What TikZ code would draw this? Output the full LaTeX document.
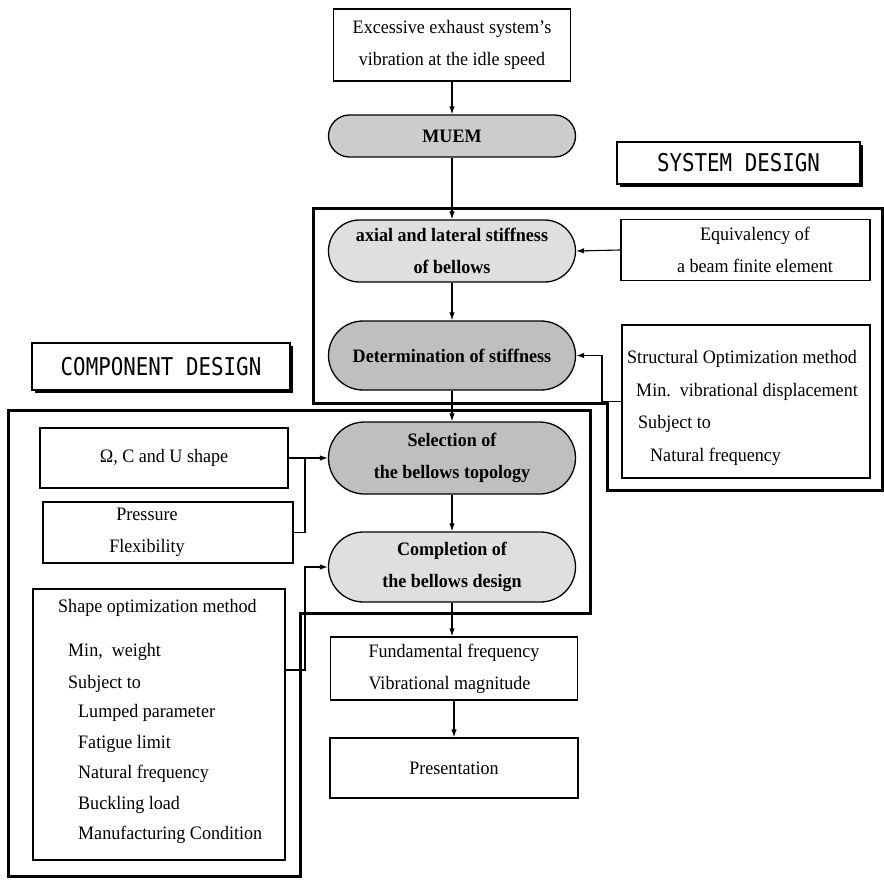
\documentclass[tikz,border=0pt]{standalone}
\usepackage{fontspec}
\setmainfont{Liberation Serif}[FakeStretch=0.95]
\newfontfamily\labelfont{DejaVu Sans Mono}[FakeStretch=0.85]
\usetikzlibrary{arrows.meta,shadows}
\begin{document}
\begin{tikzpicture}[x=1pt,y=-1pt,
  every node/.style={font=\fontsize{19}{32}\selectfont, inner sep=0pt},
  box/.style={draw, line width=1.3pt, fill=white},
  pill/.style={draw, line width=1.3pt, align=center, minimum width=247pt,
    minimum height=2*#1, rounded corners=#1, font=\fontsize{19}{32}\selectfont\bfseries},
  tag/.style={draw, line width=1.4pt, fill=white,
    drop shadow={shadow xshift=3pt, shadow yshift=-3pt, fill=black, opacity=1},
    font=\labelfont\fontsize{24.5}{28}\selectfont},
  frame/.style={line width=3pt, line join=miter},
  line/.style={line width=1.1pt},
  arr/.style={line, -{Latex[length=8pt,width=5.5pt]}},
  txt/.style={anchor=base west}]
\useasboundingbox (0,0) rectangle (884,880);

% group outlines
\draw[frame] (313,208) -- (882,208) -- (882,490) -- (607,490) -- (607,403) -- (313,403) -- cycle;
\draw[frame] (8,410) -- (590,410) -- (590,613) -- (300,613) -- (300,876) -- (8,876) -- cycle;

% main column
\node[box, minimum width=237pt, minimum height=72pt, align=center] (top) at (452,45)
  {Excessive exhaust system's\\vibration at the idle speed};
\node[pill=21pt, fill=gray!40] (muem) at (452,136) {MUEM};
\node[pill=31pt, fill=gray!25] (axial) at (452,251) {axial and lateral stiffness\\of bellows};
\node[pill=34.5pt, fill=gray!50] (det) at (452,355.5) {Determination of stiffness};
\node[pill=36pt, fill=gray!50] (sel) at (452,458) {Selection of\\the bellows topology};
\node[pill=35pt, fill=gray!25] (comp) at (452,567) {Completion of\\the bellows design};
\node[box, minimum width=247pt, minimum height=63pt] (fund) at (454,668.5) {};
\node[align=left] (fundtxt) at (fund) {Fundamental frequency\\Vibrational magnitude};
\node[box, minimum width=248pt, minimum height=60pt] (pres) at (454,768) {Presentation};

% system design side
\node[tag, minimum width=243pt, minimum height=42pt] (sysl) at (738.5,163) {SYSTEM DESIGN};
\node[box, minimum width=249pt, minimum height=61pt] (equiv) at (745.5,250) {};
\node[align=center] (equivtxt) at (755,250) {Equivalency of\\a beam finite element};
\node[box, minimum width=248pt, minimum height=153pt] (struct) at (746,401.5) {};
\node[txt] (st1) at (627,363) {Structural Optimization method};
\node[txt] (st2) at (636,396) {Min.\ \ vibrational displacement};
\node[txt] (st3) at (638,428) {Subject to};
\node[txt] (st4) at (650,461) {Natural frequency};

% component design side
\node[tag, minimum width=258pt, minimum height=47pt] (compl) at (161,366.5) {COMPONENT DESIGN};
\node[box, minimum width=248pt, minimum height=60pt] (omega) at (164,458) {Ω, C and U shape};
\node[box, minimum width=250pt, minimum height=61pt] (press) at (168,532.5) {};
\node[align=center] (presstxt) at (147,532.5) {Pressure\\Flexibility};
\node[box, minimum width=252pt, minimum height=271pt] (shape) at (159,724.5) {};
\node[txt] (sh1) at (58,612) {Shape optimization method};
\node[txt] (sh2) at (68,656) {Min,\ \ weight};
\node[txt] (sh3) at (68,688) {Subject to};
\node[txt] (sh4) at (78,717) {Lumped parameter};
\node[txt] (sh5) at (78,748) {Fatigue limit};
\node[txt] (sh6) at (78,778) {Natural frequency};
\node[txt] (sh7) at (78,809) {Buckling load};
\node[txt] (sh8) at (78,839) {Manufacturing Condition};

% junction points
\coordinate (sj) at (602,401.5);
\coordinate (cj) at (305,458);
\coordinate (sh) at (285,670);
\coordinate (cj2) at (305,567);

% connectors
\draw[arr] (top) -- (muem);
\draw[arr] (muem) -- (axial);
\draw[arr] (axial) -- (det);
\draw[arr] (det) -- (sel);
\draw[arr] (sel) -- (comp);
\draw[arr] (comp.south) -- (comp.south |- fund.north);
\draw[arr] (fund) -- (pres);
\draw[arr] (equiv.west) -- (axial.east);
\draw[arr] (struct.west) -- (sj) |- (det.east);
\draw[arr] (omega.east) -- (sel.west);
\draw[line] (press.east) -| (cj);
\draw[arr] (sh) -| (cj2) -- (comp.west);
\end{tikzpicture}
\end{document}
